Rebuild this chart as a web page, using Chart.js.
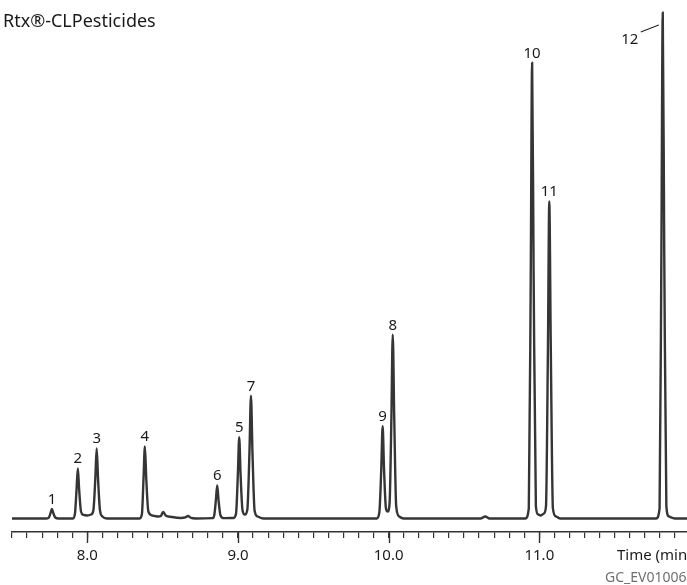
<!DOCTYPE html>
<html>
<head>
<meta charset="utf-8">
<script src="https://cdn.jsdelivr.net/npm/chart.js@4"></script>
<style>
  html, body { margin: 0; padding: 0; background: #ffffff; }
  #wrap { position: relative; width: 687px; height: 585px; }
</style>
</head>
<body>
<div id="wrap"><canvas id="c" width="687" height="585"></canvas></div>
<script>
// ---- Data ----
const chartTitle = 'Rtx®-CLPesticides';
const axisTitle = 'Time (min)';
const figureId = 'GC_EV01006';

// x axis (minutes)
const timeMin = 7.5;
const timeMax = 11.98;
const minorStep = 0.1;

// detector signal (arbitrary units)
const signalMin = -13.5;
const signalMax = 517.5;

// labelled peaks
const peakLabels = ['1', '2', '3', '4', '5', '6', '7', '8', '9', '10', '11', '12'];
const peakTimes  = [7.765, 7.937, 8.062, 8.382, 9.008, 8.862, 9.086, 10.027, 9.960, 10.952, 11.066, 11.819];
const peakHeights = [9.5, 50, 70, 72, 81, 33, 122.5, 183.5, 92, 455, 316.5, 505];

// trace: retention time (min)
const traceTime = [
  7.500, 7.730, 7.745, 7.756, 7.765, 7.774, 7.787, 7.810,
  7.905, 7.918, 7.928, 7.937, 7.946, 7.958, 7.975, 8.000, 8.025, 8.040, 8.053, 8.062, 8.071, 8.084, 8.100, 8.130,
  8.345, 8.362, 8.373, 8.382, 8.391, 8.405, 8.430, 8.470, 8.488, 8.503, 8.520, 8.560, 8.620, 8.650, 8.669, 8.688, 8.720,
  8.830, 8.842, 8.853, 8.862, 8.871, 8.884, 8.905,
  8.970, 8.987, 8.999, 9.008, 9.017, 9.030, 9.046, 9.062, 9.076, 9.086, 9.096, 9.110, 9.130, 9.170,
  9.920, 9.938, 9.951, 9.960, 9.969, 9.982, 9.994, 10.006, 10.018, 10.027, 10.037, 10.050, 10.070, 10.100,
  10.610, 10.641, 10.670,
  10.907, 10.930, 10.943, 10.952, 10.962, 10.977, 10.992, 11.010, 11.030, 11.044, 11.057, 11.066, 11.076, 11.090, 11.110, 11.140,
  11.775, 11.798, 11.810, 11.819, 11.829, 11.843, 11.860, 11.900, 11.980
];
// trace: detector signal
const traceSignal = [
  0, 0, 1, 5.5, 9.5, 5.5, 1, 0,
  0, 5, 28, 50, 28, 7, 3.5, 3, 4, 8, 40, 70, 40, 8, 2, 0,
  0, 4, 40, 72, 40, 7, 3, 2, 2.5, 6.5, 3, 1.5, 0.5, 1, 2.5, 0.5, 0,
  0.3, 3, 18, 33, 18, 3, 0.3,
  0.5, 5, 44, 81, 44, 8, 4, 9, 66, 122.5, 66, 8, 2, 0,
  0, 6, 50, 92, 50, 10, 7, 15, 100, 183.5, 100, 12, 2, 0,
  0, 2, 0,
  0, 10, 245, 455, 245, 12, 4, 3, 5, 12, 170, 316.5, 170, 10, 2, 0,
  0, 10, 265, 505, 265, 12, 2, 0, 0
];

// ---- Chart ----
const FONT = '"Noto Sans", "Open Sans", sans-serif';
const INK = '#353535';

const tracePoints = traceTime.map((t, i) => ({ x: t, y: traceSignal[i] }));

const annotatePlugin = {
  id: 'annotate',
  afterDraw(chart) {
    const ctx = chart.ctx;
    const xs = chart.scales.x;
    const ys = chart.scales.y;
    ctx.save();

    // longer major ticks at whole minutes
    ctx.strokeStyle = '#333333';
    ctx.lineWidth = 1.4;
    xs.ticks.forEach(tk => {
      if (Math.abs(tk.value - Math.round(tk.value)) < 1e-6) {
        const px = Math.round(xs.getPixelForValue(tk.value)) + 0.5;
        ctx.beginPath();
        ctx.moveTo(px, xs.top);
        ctx.lineTo(px, xs.top + 11);
        ctx.stroke();
      }
    });

    // peak numbers
    ctx.fillStyle = '#1a1a1a';
    ctx.font = '15px ' + FONT;
    ctx.textAlign = 'center';
    ctx.textBaseline = 'alphabetic';
    peakLabels.forEach((lab, i) => {
      const px = xs.getPixelForValue(peakTimes[i]);
      const py = ys.getPixelForValue(peakHeights[i]);
      if (lab === '12') {
        ctx.fillText(lab, px - 33, py + 31);
        ctx.beginPath();
        ctx.strokeStyle = '#222';
        ctx.lineWidth = 1.1;
        ctx.moveTo(px - 22, py + 19.5);
        ctx.lineTo(px - 4, py + 12.5);
        ctx.stroke();
      } else {
        ctx.fillText(lab, px, py - 5);
      }
    });

    // title
    ctx.textAlign = 'left';
    ctx.fillStyle = '#1a1a1a';
    ctx.font = '18px ' + FONT;
    ctx.fillText(chartTitle, 3, 27);

    // axis title and figure id
    ctx.font = '15px ' + FONT;
    ctx.fillStyle = '#1a1a1a';
    ctx.textBaseline = 'middle';
    ctx.fillText(axisTitle, 617, 556);
    ctx.font = '14px ' + FONT;
    ctx.fillStyle = '#707070';
    ctx.fillText(figureId, 605, 578);
    ctx.restore();
  }
};

new Chart(document.getElementById('c'), {
  type: 'line',
  data: {
    datasets: [{
      data: tracePoints,
      borderColor: INK,
      borderWidth: 2.4,
      pointRadius: 0,
      fill: false,
      cubicInterpolationMode: 'monotone',
      borderJoinStyle: 'round'
    }]
  },
  options: {
    responsive: false,
    animation: false,
    devicePixelRatio: 1,
    layout: { padding: { left: 12, right: 0, top: 0, bottom: 11 } },
    plugins: { legend: { display: false }, tooltip: { enabled: false }, title: { display: false } },
    scales: {
      x: {
        type: 'linear',
        min: timeMin,
        max: timeMax,
        position: 'bottom',
        border: { display: true, color: '#333333', width: 1.4 },
        grid: { display: true, drawOnChartArea: false, drawTicks: true, tickLength: 6, color: '#333333', lineWidth: 1.2 },
        ticks: {
          stepSize: minorStep,
          autoSkip: false,
          includeBounds: false,
          maxRotation: 0,
          minRotation: 0,
          padding: 9,
          color: '#1a1a1a',
          font: { family: FONT, size: 15 },
          callback: (v) => Math.abs(v - Math.round(v)) < 1e-6 ? Number(v).toFixed(1) : ''
        }
      },
      y: {
        display: false,
        min: signalMin,
        max: signalMax
      }
    }
  },
  plugins: [annotatePlugin]
});
</script>
</body>
</html>
